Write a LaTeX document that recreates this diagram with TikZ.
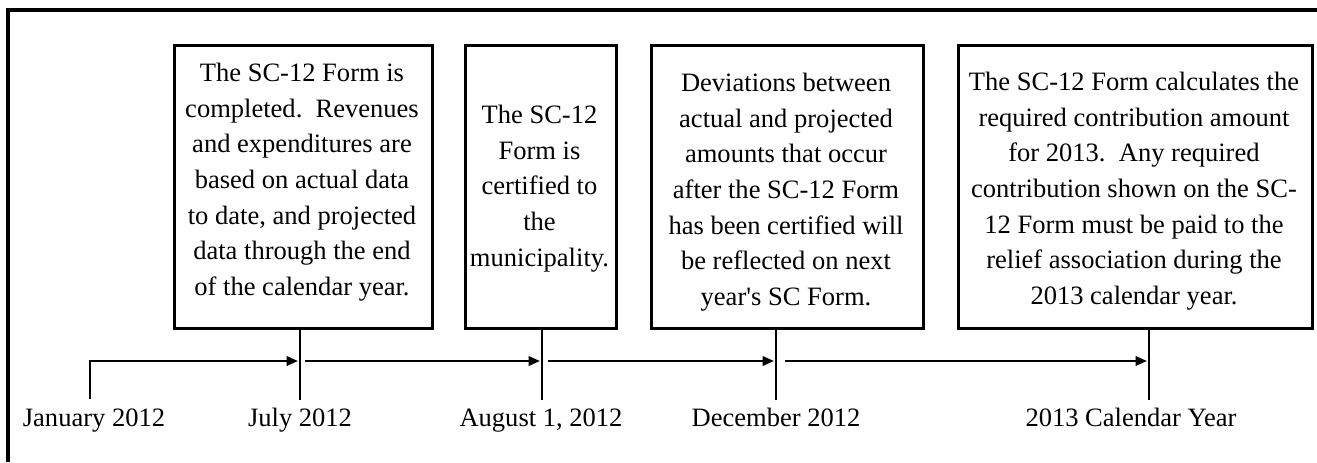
\documentclass[tikz,border=0pt]{standalone}
\usepackage{fontspec}
\setmainfont{Liberation Serif}
\usetikzlibrary{arrows.meta}
\begin{document}
\begin{tikzpicture}[x=0.75pt,y=-0.75pt,
  frame/.style={line width=2.8pt},
  evbox/.style={draw,line width=2.1pt,inner sep=0pt,minimum height=212.25pt,anchor=north west},
  boxtext/.style={align=center,anchor=north,inner sep=0pt,font=\fontsize{19.9pt}{26.7pt}\selectfont},
  datelbl/.style={anchor=base,inner sep=0pt,font=\fontsize{19.9pt}{24pt}\selectfont},
  tickline/.style={line width=1.3pt},
  tl/.style={line width=1.7pt,-{Triangle[length=8.5pt,width=7pt]}}]
\useasboundingbox (0,0) rectangle (1317,462);
% outer frame (only top and left edges visible)
\coordinate (fl) at (8,462);
\coordinate (fc) at (8,10);
\coordinate (fr) at (1317,10);
\draw[frame] (fl) -- (fc) -- (fr);
% boxes
\node[evbox,minimum width=193.5pt] (b1) at (173,44) {};
\node[evbox,minimum width=113.25pt] (b2) at (464,44) {};
\node[evbox,minimum width=204pt] (b3) at (650,44) {};
\node[evbox,minimum width=265.5pt] (b4) at (957,44) {};
% box texts
\node[boxtext] (t1) at (302,63) {The SC-12 Form is\\completed.\ \ Revenues\\and expenditures are\\based on actual data\\to date, and projected\\data through the end\\of the calendar year.};
\node[boxtext] (t2) at (539.5,105) {The SC-12\\Form is\\certified to\\the\\municipality.};
\node[boxtext] (t3) at (786,73) {Deviations between\\actual and projected\\amounts that occur\\after the SC-12 Form\\has been certified will\\be reflected on next\\year\textquotesingle s SC Form.};
\node[boxtext] (t4) at (1134,72) {The SC-12 Form calculates the\\required contribution amount\\for 2013.\ \ Any required\\contribution shown on the SC-\\12 Form must be paid to the\\relief association during the\\2013 calendar year.};
% tick coordinates
\coordinate (j0) at (90,399);
\coordinate (j1) at (90,361);
\coordinate (k1t) at (300,327); \coordinate (k1b) at (300,400);
\coordinate (k2t) at (542,327); \coordinate (k2b) at (542,400);
\coordinate (k3t) at (776,327); \coordinate (k3b) at (776,400);
\coordinate (k4t) at (1149,327); \coordinate (k4b) at (1149,400);
\draw[tickline] (k1t) -- (k1b);
\draw[tickline] (k2t) -- (k2b);
\draw[tickline] (k3t) -- (k3b);
\draw[tickline] (k4t) -- (k4b);
% timeline arrows
\coordinate (a1e) at (298,361);
\coordinate (a2s) at (305,361); \coordinate (a2e) at (540,361);
\coordinate (a3s) at (548,361); \coordinate (a3e) at (774,361);
\coordinate (a4s) at (785,361); \coordinate (a4e) at (1147,361);
\draw[tl] (j0) -- (j1) -- (a1e);
\draw[tl] (a2s) -- (a2e);
\draw[tl] (a3s) -- (a3e);
\draw[tl] (a4s) -- (a4e);
% date labels
\node[datelbl] (d0) at (94,426) {January 2012};
\node[datelbl] (d1) at (300,426) {July 2012};
\node[datelbl] (d2) at (541,426) {August 1, 2012};
\node[datelbl] (d3) at (776,426) {December 2012};
\node[datelbl] (d4) at (1131,426) {2013 Calendar Year};
\end{tikzpicture}
\end{document}
